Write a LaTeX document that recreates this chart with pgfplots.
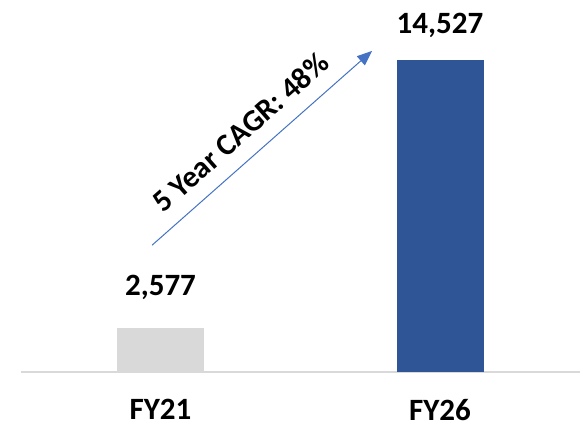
\documentclass[border=0pt]{standalone}
\usepackage{fontspec}
\setmainfont{Carlito}
\usepackage{pgfplots}
\pgfplotsset{compat=1.18}
\usetikzlibrary{arrows.meta}

\definecolor{barGray}{HTML}{D9D9D9}
\definecolor{barBlue}{HTML}{2F5597}
\definecolor{arrowBlue}{HTML}{4472C4}

\begin{document}
\begin{tikzpicture}
\begin{axis}[
    scale only axis,
    width=559pt, height=372pt,
    xmin=-0.5, xmax=1.5,
    ymin=615, ymax=17200,
    ybar, bar width=87pt, bar shift=0pt,
    axis x line*=bottom,
    axis y line=none,
    x axis line style={draw=barGray, line width=1.5pt},
    xtick={0,1}, xticklabels={FY21,FY26},
    major tick length=0pt,
    xticklabel style={font=\fontsize{31}{36}\selectfont\bfseries, inner sep=0pt, yshift=-27pt},
    clip=false,
    /pgf/number format/.cd, fixed, precision=0, 1000 sep={,}, assume math mode=true,
]
% FY21
\addplot[fill=barGray, draw=none,
    nodes near coords,
    nodes near coords style={font=\fontsize{31}{36}\selectfont\bfseries, text=black,
        anchor=base, inner sep=0pt, yshift=32pt}]
    coordinates {(0,2577)};
% FY26
\addplot[fill=barBlue, draw=none,
    nodes near coords,
    nodes near coords style={font=\fontsize{31}{36}\selectfont\bfseries, text=black,
        anchor=base, inner sep=0pt, yshift=26pt}]
    coordinates {(1,14527)};

% growth arrow with CAGR label
\draw[arrowBlue, line width=1pt, -{Triangle[length=15pt,width=12pt]}]
    (axis cs:-0.030,6270) -- node[sloped, pos=0.48, anchor=south, inner xsep=0pt, inner ysep=15pt,
        text=black, font=\fontsize{30.5}{34}\selectfont\bfseries] {5 Year CAGR: 48\%}
    (axis cs:0.757,14930);
\end{axis}
\pgfresetboundingbox
\path[use as bounding box] ([xshift=-20.75pt,yshift=-53pt]current axis.south west)
    rectangle ([xshift=2.25pt]current axis.north east);
\end{tikzpicture}
\end{document}
